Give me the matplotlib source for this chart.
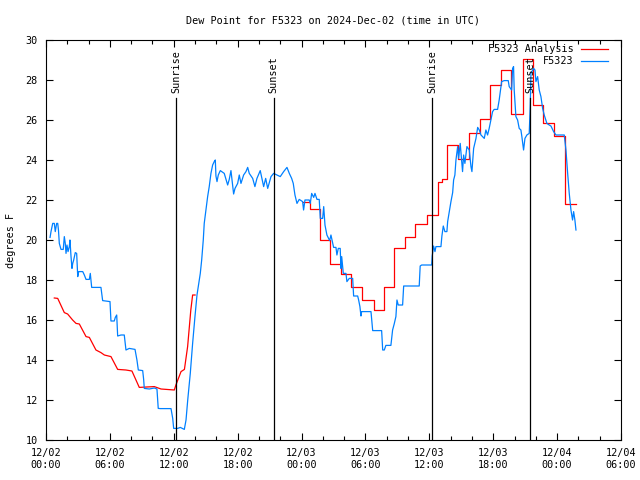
import numpy as np
import pandas as pd
import matplotlib
matplotlib.use('Agg')
import matplotlib.pyplot as plt
import matplotlib.dates as mdates

# hours after 2024-12-02 00:00 UTC
ana1_h = [0.78, 1.1, 1.72, 2.03, 2.5, 2.82, 3.13, 3.76, 4.07, 4.69, 5.16, 5.48, 6.1, 6.73,
          7.5, 8.07, 8.76, 10.17, 10.8, 12.05, 12.2, 12.68, 13.0, 13.3, 13.6, 13.77, 14.0]
ana1_v = [17.1, 17.08, 16.37, 16.3, 16.0, 15.83, 15.8, 15.17, 15.13, 14.5, 14.37, 14.25, 14.17, 13.53,
          13.5, 13.45, 12.63, 12.67, 12.55, 12.5, 12.75, 13.42, 13.53, 14.67, 16.5, 17.25, 17.25]

ana2_h = [24.1, 24.8, 25.7, 26.7, 27.7, 28.6, 29.7, 30.8, 31.7, 32.7, 33.7, 34.7, 35.75, 36.8,
          37.2, 37.7, 38.7, 39.7, 40.8, 41.7, 42.7, 43.7, 44.8, 45.7, 46.7, 47.7, 48.7, 49.77]
ana2_v = [21.92, 21.53, 20.0, 18.8, 18.3, 17.67, 17.0, 16.5, 17.67, 19.58, 20.17, 20.8, 21.25, 22.9,
          23.03, 24.75, 24.03, 25.33, 26.03, 27.75, 28.5, 26.3, 29.05, 26.75, 25.87, 25.22, 21.8, 21.8]

obs_h = [0.38, 0.47, 0.63, 0.78, 0.87, 1.0, 1.1, 1.17, 1.25, 1.41, 1.62, 1.72, 1.81, 1.88, 1.97,
         2.07, 2.19, 2.25, 2.35, 2.44, 2.51, 2.6, 2.75, 2.88, 2.98, 3.07, 3.45, 3.6, 3.76, 4.07,
         4.16, 4.29, 5.16, 5.32, 6.01, 6.1, 6.41, 6.51, 6.64, 6.73, 7.04, 7.35, 7.51, 7.82, 8.36,
         8.54, 8.67, 9.08, 9.17, 9.23, 9.7, 10.17, 10.42, 10.54, 10.73, 11.74, 11.9, 11.99, 12.37,
         12.61, 12.99, 13.15, 13.31, 13.55, 13.77, 13.99, 14.18, 14.3, 14.49, 14.62, 14.77, 14.86,
         15.02, 15.18, 15.33, 15.49, 15.65, 15.8, 15.9, 15.96, 16.06, 16.18, 16.37, 16.74, 17.06,
         17.21, 17.37, 17.62, 17.75, 18.0, 18.15, 18.31, 18.56, 18.78, 18.94, 19.09, 19.41, 19.62,
         19.81, 20.12, 20.44, 20.63, 20.82, 21.13, 21.38, 21.69, 22.0, 22.32, 22.63, 22.85, 23.07,
         23.22, 23.38, 23.57, 23.78, 24.1, 24.19, 24.32, 24.72, 24.82, 24.95, 25.14, 25.26, 25.45,
         25.66, 25.76, 25.98, 26.08, 26.2, 26.38, 26.64, 26.76, 27.01, 27.23, 27.32, 27.45, 27.63,
         27.7, 27.77, 27.92, 28.17, 28.26, 28.48, 28.8, 28.89, 29.27, 29.36, 29.48, 29.58, 29.64,
         30.52, 30.68, 31.52, 31.62, 31.77, 31.92, 32.39, 32.55, 32.7, 32.86, 32.96, 33.08, 33.49,
         33.59, 35.05, 35.14, 35.28, 36.22, 36.27, 36.4, 36.53, 36.62, 37.09, 37.18, 37.31, 37.46,
         37.65, 37.72, 37.87, 38.03, 38.19, 38.28, 38.4, 38.5, 38.66, 38.75, 38.9, 39.03, 39.12,
         39.22, 39.34, 39.53, 39.75, 39.91, 40.0, 40.16, 40.38, 40.54, 40.69, 40.85, 41.16, 41.31,
         41.47, 41.62, 41.78, 41.94, 42.09, 42.41, 42.56, 42.79, 43.03, 43.41, 43.5, 43.73, 43.82,
         43.91, 43.97, 44.13, 44.29, 44.44, 44.6, 44.69, 44.85, 44.98, 45.16, 45.38, 45.48, 45.54,
         45.79, 45.92, 46.01, 46.17, 46.32, 46.48, 46.64, 46.79, 47.04, 47.26, 47.42, 47.67, 47.89,
         48.67, 48.83, 48.99, 49.14, 49.3, 49.45, 49.55, 49.67, 49.77]
obs_v = [20.13, 20.42, 20.83, 20.83, 20.42, 20.83, 20.83, 20.5, 19.83, 19.53, 19.53, 20.17, 19.83,
         19.33, 19.75, 19.42, 19.67, 20.0, 19.17, 18.58, 18.83, 19.0, 19.37, 19.33, 18.17, 18.42,
         18.42, 18.25, 18.03, 18.03, 18.33, 17.63, 17.63, 16.97, 16.92, 15.95, 15.95, 16.13, 16.25,
         15.2, 15.25, 15.25, 14.5, 14.58, 14.53, 14.0, 13.5, 13.47, 13.03, 12.58, 12.55, 12.6, 12.55,
         11.58, 11.57, 11.57, 11.08, 10.58, 10.58, 10.63, 10.53, 11.0, 12.0, 13.33, 14.83, 16.17,
         17.25, 17.67, 18.33, 19.0, 20.0, 20.83, 21.5, 22.17, 22.67, 23.33, 23.75, 23.92, 24.0, 23.2,
         22.92, 23.25, 23.47, 23.33, 22.75, 23.03, 23.47, 22.3, 22.58, 22.83, 23.25, 22.83, 23.25,
         23.42, 23.63, 23.33, 23.08, 22.67, 23.08, 23.47, 22.67, 23.08, 22.58, 23.17, 23.33, 23.25,
         23.17, 23.42, 23.63, 23.33, 23.08, 22.83, 22.25, 21.83, 22.03, 21.92, 21.5, 22.0, 22.0,
         21.83, 22.33, 22.13, 22.33, 22.03, 22.03, 21.08, 21.08, 21.67, 20.75, 20.25, 19.97, 20.25,
         19.63, 19.63, 19.25, 19.58, 19.58, 18.58, 19.17, 18.33, 18.33, 17.92, 18.08, 18.08, 17.2,
         17.2, 17.0, 16.67, 16.2, 16.42, 16.42, 15.47, 15.47, 14.5, 14.5, 14.73, 14.73, 15.5, 15.8,
         16.17, 17.0, 16.75, 16.75, 17.7, 17.7, 18.7, 18.75, 18.75, 19.2, 19.7, 19.42, 19.67, 19.67,
         20.2, 20.7, 20.42, 20.42, 20.92, 21.42, 21.92, 22.37, 23.0, 23.25, 24.0, 24.67, 24.08, 24.83,
         24.0, 23.42, 24.25, 23.83, 24.67, 24.5, 23.67, 23.42, 24.58, 25.08, 25.63, 25.5, 25.25,
         25.08, 25.5, 25.25, 25.58, 26.0, 26.42, 26.53, 26.53, 27.0, 27.92, 27.97, 27.97, 27.67,
         27.5, 28.58, 28.67, 27.5, 26.17, 26.0, 25.58, 25.5, 25.17, 24.5, 25.08, 25.25, 25.33, 26.75,
         28.33, 28.58, 28.5, 27.92, 28.17, 27.5, 27.17, 26.58, 26.25, 25.83, 25.75, 25.7, 25.42,
         25.25, 25.25, 24.5, 23.33, 22.33, 21.5, 21.0, 21.42, 21.0, 20.5]

sun_h = [12.2, 21.4, 36.24, 45.45]
sun_lbl = ['Sunrise', 'Sunset', 'Sunrise', 'Sunset']

base = pd.Timestamp('2024-12-02 00:00')
def tt(h):
    return base + pd.to_timedelta(np.array(h), unit='h')

plt.rcParams['font.family'] = 'DejaVu Sans Mono'
plt.rcParams['font.size'] = 7.3

fig = plt.figure(figsize=(6.4, 4.8), dpi=100)
ax = fig.add_axes([46/640, 40/480, 575/640, 400/480])

ax.plot(tt(ana1_h), ana1_v, color='#ff0000', lw=0.9, label='F5323 Analysis')
ax.plot(tt(ana2_h), ana2_v, color='#ff0000', lw=0.9, drawstyle='steps-post')
ax.plot(tt(obs_h), obs_v, color='#0080ff', lw=0.9, label='F5323')

for h, s in zip(sun_h, sun_lbl):
    t = tt([h])[0]
    ax.plot([t, t], [10, 27.1], color='black', lw=0.9)
    ax.text(t, 27.35, s, rotation=90, ha='center', va='bottom')

ax.set_xlim(base, base + pd.Timedelta(hours=54))
ax.set_ylim(10, 30)
ax.set_yticks(np.arange(10, 31, 2))
ax.xaxis.set_major_locator(mdates.HourLocator(byhour=[0, 6, 12, 18]))
ax.xaxis.set_minor_locator(mdates.HourLocator(byhour=range(0, 24, 2)))
ax.xaxis.set_major_formatter(mdates.DateFormatter('%m/%d\n%H:%M'))
ax.tick_params(which='both', direction='in', top=True, right=True, width=0.8)
ax.tick_params(which='major', length=5, pad=6)
ax.tick_params(which='minor', length=3)
for sp in ax.spines.values():
    sp.set_linewidth(0.8)

ax.set_title('Dew Point for F5323 on 2024-Dec-02 (time in UTC)', fontsize=7.3, pad=12)
ax.set_ylabel('degrees F', labelpad=7)
ax.legend(loc='upper right', bbox_to_anchor=(0.985, 1.0), frameon=False, markerfirst=False,
          handlelength=2.7, handletextpad=0.7, labelspacing=0.2, borderaxespad=0.3, borderpad=0.1)

fig.savefig('out.png', dpi=100)
